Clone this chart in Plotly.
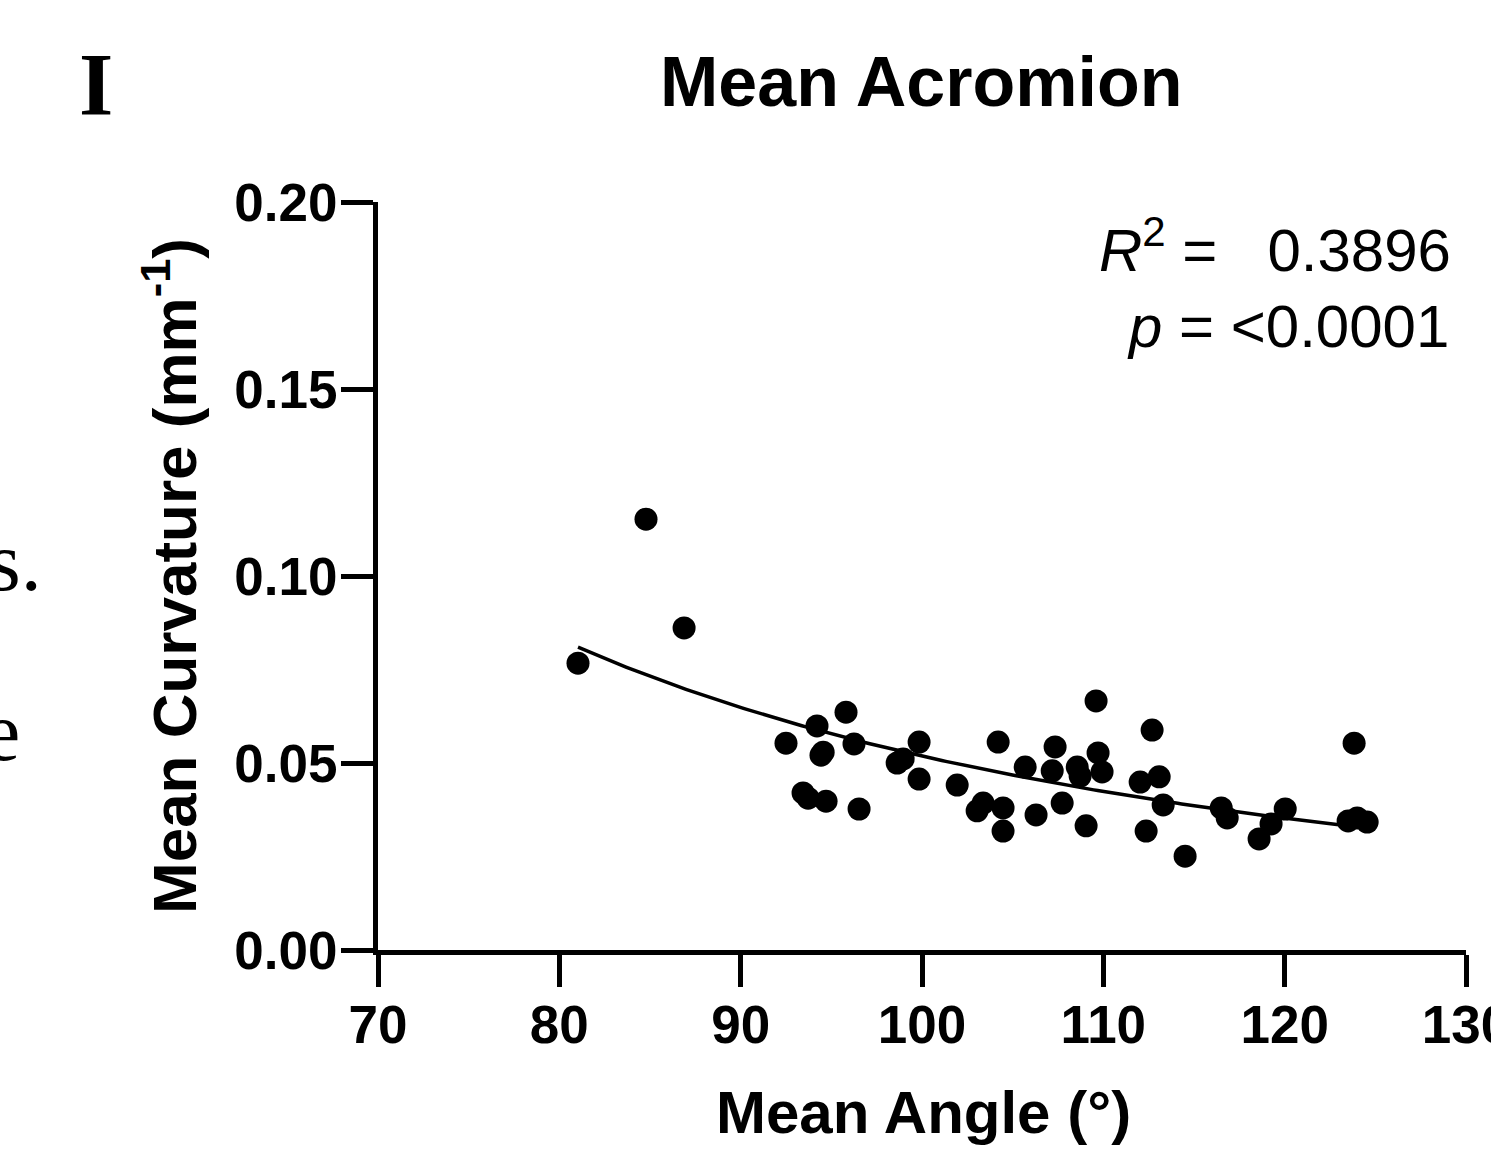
import numpy as np
import plotly.graph_objects as go

# ---- data ----
mean_angle = [81.03, 84.78, 86.88, 92.50, 94.21, 95.81, 94.55, 94.43, 96.25, 98.63,
              98.96, 99.84, 99.84, 101.94, 93.44, 93.72, 94.71, 96.53, 103.04, 103.37,
              109.60, 104.20, 107.34, 112.69, 109.71, 105.69, 107.18, 108.56, 108.72, 109.93,
              112.03, 113.08, 113.30, 104.47, 104.47, 106.29, 107.73, 109.05, 112.36, 114.51,
              116.50, 116.83, 118.59, 119.25, 120.03, 123.83, 123.50, 124.00, 124.55]
mean_curvature = [0.0767, 0.1152, 0.0861, 0.0553, 0.0599, 0.0636, 0.0529, 0.0521, 0.0551, 0.0500,
                  0.0511, 0.0556, 0.0457, 0.0441, 0.0420, 0.0406, 0.0398, 0.0377, 0.0372, 0.0393,
                  0.0666, 0.0556, 0.0543, 0.0588, 0.0527, 0.0489, 0.0479, 0.0489, 0.0465, 0.0476,
                  0.0449, 0.0463, 0.0388, 0.0380, 0.0318, 0.0361, 0.0393, 0.0332, 0.0318, 0.0251,
                  0.0380, 0.0353, 0.0297, 0.0337, 0.0377, 0.0553, 0.0345, 0.0353, 0.0342]

# fitted curve  y = fit_a * x ** fit_b  (power fit)
fit_a = 897.0
fit_b = -2.119
fit_x_range = [81.03, 124.9]

x_ticks = [70, 80, 90, 100, 110, 120, 130]
y_ticks = [0.00, 0.05, 0.10, 0.15, 0.20]
y_tick_labels = ["0.00", "0.05", "0.10", "0.15", "0.20"]

title_text = "Mean Acromion"
x_title = "Mean Angle (°)"
y_title = "Mean Curvature (mm<sup>-1</sup>)"
r2_text = "<i>R</i><sup>2</sup> =&nbsp;&nbsp;&nbsp;0.3896"
p_text = "<i>p</i> = &lt;0.0001"
panel_label = "I"

# ---- figure ----
OFF = 0  # page body margin removed via post_script
W, H = 1491 - OFF, 1153 - OFF
L, T = 378 - OFF, 202 - OFF
pw, ph = 1088, 748
R, B = W - L - pw, H - T - ph

def px_x(p):
    return (p - OFF - L) / pw

def px_y(p):
    return (T + ph - (p - OFF)) / ph

fx = np.linspace(fit_x_range[0], fit_x_range[1], 200)
fy = fit_a * fx ** fit_b

fig = go.Figure()
fig.add_trace(go.Scatter(x=fx, y=fy, mode="lines",
                         line=dict(color="black", width=3.5),
                         hoverinfo="skip", showlegend=False))
fig.add_trace(go.Scatter(x=mean_angle, y=mean_curvature, mode="markers",
                         marker=dict(color="black", size=23, line=dict(width=0)),
                         showlegend=False, cliponaxis=False))

sans = "Arial, Liberation Sans, sans-serif"
serif = "Liberation Serif, Times New Roman, serif"
tickfont = dict(family=sans, size=53, color="black", weight="bold")
common = dict(showline=True, linecolor="black", linewidth=5,
              ticks="outside", ticklen=32, tickwidth=5, tickcolor="black",
              showgrid=False, zeroline=False, tickfont=tickfont,
              ticklabeloverflow="allow")
fig.update_xaxes(range=[70, 130], tickvals=x_ticks, ticktext=[str(v) for v in x_ticks],
                 ticklabelstandoff=-8, **common)
fig.update_yaxes(range=[0, 0.2], tickvals=y_ticks, ticktext=y_tick_labels,
                 ticklabelstandoff=-7, **common)

annots = [
    dict(text=f"<b>{title_text}</b>", x=px_x(921), y=px_y(82)),
    dict(text=f"<b>{x_title}</b>", x=px_x(923), y=px_y(1112), size=60),
    dict(text=f"<b>{y_title}</b>", x=px_x(170), y=px_y(576), size=62, textangle=-90),
    dict(text=r2_text, x=px_x(1453), y=px_y(246), xanchor="right", size=60, family=sans),
    dict(text=p_text, x=px_x(1451), y=px_y(326), xanchor="right", size=60, family=sans),
    dict(text=f"<b>{panel_label}</b>", x=px_x(96), y=px_y(85), size=88, family=serif),
    dict(text="s.", x=px_x(-14), y=px_y(561), xanchor="left", size=84, family=serif),
    dict(text="e", x=px_x(-19), y=px_y(731), xanchor="left", size=84, family=serif),
]
ann_objs = []
for a in annots:
    ann_objs.append(dict(
        text=a["text"], x=a["x"], y=a["y"], xref="paper", yref="paper",
        xanchor=a.get("xanchor", "center"), yanchor="middle", showarrow=False,
        textangle=a.get("textangle", 0),
        font=dict(family=a.get("family", sans), size=a.get("size", 70), color="black")))

fig.update_layout(width=W, height=H, margin=dict(l=L, r=R, t=T, b=B, autoexpand=False),
                  paper_bgcolor="white", plot_bgcolor="white",
                  annotations=ann_objs, showlegend=False)

fig.write_html("out.html", config={"displayModeBar": False},
               post_script="document.body.style.margin='0';document.body.style.overflow='hidden';")
